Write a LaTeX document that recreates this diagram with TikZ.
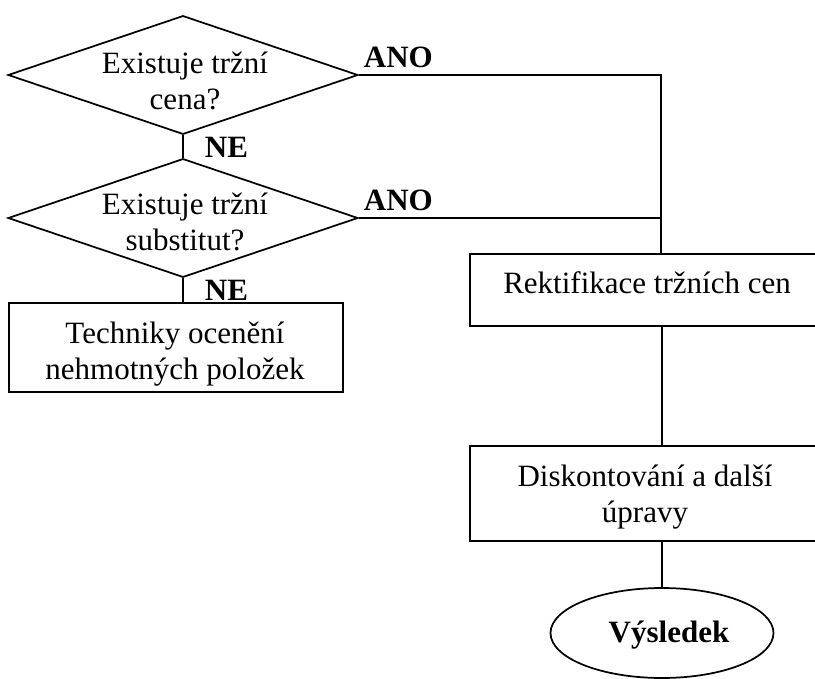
\documentclass[tikz,border=0pt]{standalone}
\usepackage{fontspec}
\setmainfont{Liberation Serif}
\usetikzlibrary{shapes.geometric}
\begin{document}
\begin{tikzpicture}[x=0.75pt,y=-0.75pt,
  line width=1.3pt,
  txt/.style={inner sep=0pt,align=center,font=\fontsize{23.25}{27}\selectfont},
  lbl/.style={inner sep=0pt,anchor=base west,font=\fontsize{23.25}{27}\selectfont\bfseries},
  dia/.style={draw,diamond,inner sep=0pt,minimum width=262.5pt,minimum height=89pt},
  box/.style={draw,rectangle,inner sep=0pt}]
\clip (0,0) rectangle (815,679);
% decisions
\node[dia] (d1) at (183,75) {};
\node[txt] (d1t) at (185,80.5) {Existuje tržní\\cena?};
\node[dia] (d2) at (183,218) {};
\node[txt] (d2t) at (185,222) {Existuje tržní\\substitut?};
% boxes
\node[box,minimum width=250.5pt,minimum height=66.75pt] (tb) at (176,347.5) {};
\node[txt] (tbt) at (175,354) {Techniky ocenění\\nehmotných položek};
\node[box,minimum width=265.5pt,minimum height=54pt] (rb) at (647,290) {};
\node[txt,anchor=base] (rbt) at (647,293) {Rektifikace tržních cen};
\node[box,minimum width=265.5pt,minimum height=71.25pt] (db) at (647,493.5) {};
\node[txt] (dbt) at (645,497) {Diskontování a další\\úpravy};
\node[draw,ellipse,inner sep=0pt,minimum width=167.25pt,minimum height=67.5pt] (el) at (662,633) {};
\node[txt,anchor=base,font=\fontsize{23.25}{27}\selectfont\bfseries] (elt) at (669,642) {Výsledek};
% connectors
\coordinate (c1) at (661,75);
\draw (d1.east) -- (c1) -- (rb.north -| c1);
\draw (d2.east) -- (d2.east -| c1);
\draw (d1.south) -- (d2.north);
\draw (d2.south) -- (tb.north -| d2.south);
\draw (rb.south -| el.north) -- (db.north -| el.north);
\draw (db.south -| el.north) -- (el.north);
% labels
\node[lbl] (ano1) at (363,67) {ANO};
\node[lbl] (ano2) at (363,210) {ANO};
\node[lbl] (ne1) at (204,157) {NE};
\node[lbl] (ne2) at (204,300) {NE};
\end{tikzpicture}
\end{document}
